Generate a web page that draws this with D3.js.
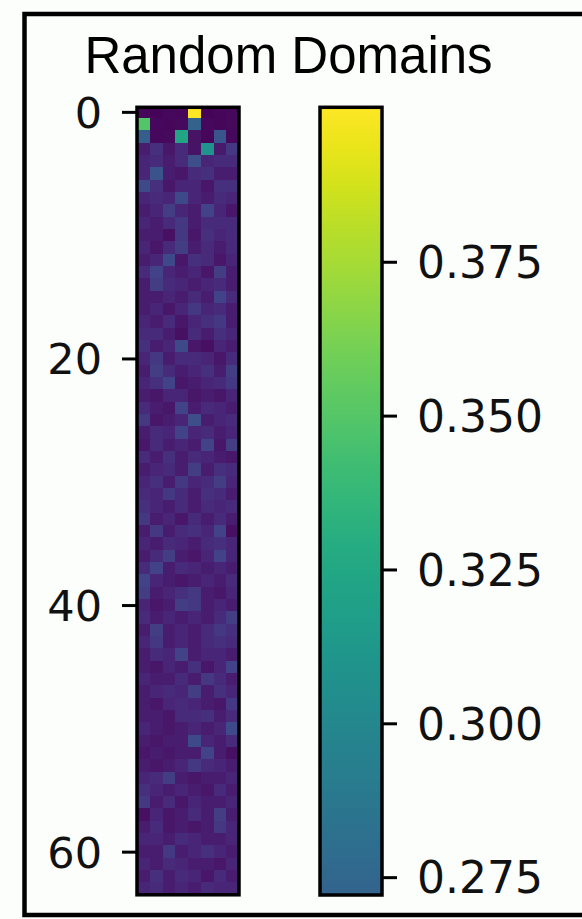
<!DOCTYPE html>
<html>
<head>
<meta charset="utf-8">
<script src="https://cdn.jsdelivr.net/npm/d3@7"></script>
<style>
  html, body { margin: 0; padding: 0; background: #fcfefc; }
  svg { display: block; }
  .tick text { font-family: "DejaVu Sans", sans-serif; }
</style>
</head>
<body>
<svg id="chart" width="582" height="919"></svg>
<script>
// Per-cell scores: 64 rows x 8 columns
const rowIndex = d3.range(64);
const colIndex = d3.range(8);
const values = [
  [0.216,0.215,0.217,0.216,0.400,0.215,0.216,0.217],
  [0.349,0.217,0.216,0.218,0.272,0.217,0.216,0.218],
  [0.268,0.217,0.218,0.323,0.222,0.216,0.263,0.217],
  [0.228,0.239,0.224,0.235,0.222,0.309,0.226,0.243],
  [0.232,0.235,0.228,0.235,0.257,0.232,0.235,0.235],
  [0.232,0.261,0.228,0.224,0.235,0.239,0.228,0.228],
  [0.254,0.239,0.224,0.232,0.232,0.224,0.239,0.239],
  [0.232,0.235,0.232,0.254,0.232,0.228,0.235,0.232],
  [0.228,0.232,0.246,0.232,0.228,0.250,0.232,0.224],
  [0.232,0.228,0.235,0.243,0.228,0.235,0.235,0.235],
  [0.228,0.228,0.221,0.243,0.224,0.239,0.232,0.235],
  [0.232,0.224,0.235,0.246,0.228,0.235,0.228,0.235],
  [0.228,0.232,0.254,0.224,0.239,0.235,0.224,0.232],
  [0.235,0.250,0.232,0.228,0.232,0.224,0.246,0.228],
  [0.228,0.246,0.235,0.232,0.228,0.232,0.235,0.228],
  [0.228,0.228,0.232,0.228,0.235,0.228,0.250,0.235],
  [0.228,0.232,0.224,0.232,0.243,0.232,0.235,0.228],
  [0.232,0.228,0.235,0.224,0.232,0.239,0.243,0.228],
  [0.235,0.235,0.228,0.221,0.235,0.228,0.239,0.232],
  [0.239,0.228,0.232,0.254,0.224,0.221,0.232,0.228],
  [0.232,0.243,0.228,0.235,0.235,0.232,0.224,0.235],
  [0.228,0.246,0.235,0.228,0.232,0.239,0.228,0.246],
  [0.232,0.239,0.250,0.224,0.228,0.232,0.235,0.243],
  [0.228,0.224,0.232,0.232,0.224,0.228,0.224,0.232],
  [0.235,0.228,0.224,0.250,0.228,0.235,0.232,0.228],
  [0.243,0.224,0.228,0.232,0.257,0.228,0.232,0.235],
  [0.228,0.235,0.232,0.250,0.232,0.235,0.228,0.232],
  [0.224,0.235,0.228,0.232,0.228,0.250,0.224,0.246],
  [0.235,0.228,0.239,0.228,0.235,0.232,0.228,0.224],
  [0.228,0.232,0.235,0.228,0.246,0.228,0.239,0.235],
  [0.232,0.239,0.228,0.243,0.232,0.235,0.246,0.232],
  [0.235,0.232,0.243,0.235,0.228,0.239,0.235,0.228],
  [0.239,0.232,0.228,0.235,0.228,0.235,0.232,0.235],
  [0.243,0.228,0.232,0.224,0.235,0.228,0.235,0.228],
  [0.228,0.243,0.228,0.235,0.239,0.232,0.250,0.221],
  [0.232,0.228,0.235,0.232,0.228,0.235,0.239,0.232],
  [0.228,0.235,0.246,0.228,0.224,0.232,0.250,0.232],
  [0.235,0.250,0.228,0.235,0.232,0.228,0.232,0.228],
  [0.250,0.232,0.228,0.224,0.228,0.232,0.228,0.235],
  [0.246,0.228,0.232,0.239,0.243,0.228,0.224,0.232],
  [0.232,0.224,0.228,0.246,0.243,0.228,0.232,0.228],
  [0.235,0.228,0.232,0.228,0.232,0.228,0.235,0.246],
  [0.228,0.246,0.228,0.232,0.228,0.235,0.243,0.239],
  [0.232,0.243,0.228,0.232,0.228,0.235,0.239,0.235],
  [0.228,0.235,0.232,0.250,0.228,0.232,0.232,0.228],
  [0.228,0.224,0.232,0.228,0.239,0.224,0.232,0.250],
  [0.232,0.228,0.228,0.235,0.228,0.243,0.235,0.228],
  [0.228,0.232,0.235,0.232,0.246,0.228,0.239,0.232],
  [0.228,0.224,0.232,0.235,0.232,0.228,0.224,0.243],
  [0.228,0.228,0.224,0.235,0.235,0.239,0.228,0.235],
  [0.232,0.228,0.224,0.228,0.232,0.228,0.232,0.254],
  [0.228,0.224,0.228,0.228,0.254,0.232,0.228,0.235],
  [0.224,0.228,0.224,0.228,0.228,0.250,0.228,0.221],
  [0.228,0.224,0.228,0.232,0.243,0.235,0.232,0.228],
  [0.232,0.235,0.246,0.228,0.224,0.228,0.228,0.232],
  [0.239,0.232,0.228,0.232,0.228,0.224,0.235,0.228],
  [0.243,0.228,0.235,0.224,0.232,0.228,0.228,0.232],
  [0.221,0.232,0.224,0.228,0.235,0.228,0.246,0.228],
  [0.228,0.235,0.224,0.228,0.224,0.228,0.243,0.232],
  [0.232,0.232,0.228,0.235,0.232,0.228,0.228,0.232],
  [0.228,0.228,0.243,0.228,0.232,0.239,0.232,0.228],
  [0.232,0.228,0.235,0.232,0.228,0.228,0.224,0.232],
  [0.228,0.239,0.228,0.235,0.232,0.224,0.235,0.228],
  [0.232,0.235,0.228,0.232,0.228,0.235,0.232,0.232]
];
const rowTicks = [0, 20, 40, 60];
const colorbarTicks = [0.275, 0.300, 0.325, 0.350, 0.375];
const colorDomain = [0.213, 0.400];      // colour normalisation
const colorbarRange = [0.2721, 0.4001];  // portion of the scale shown on the bar
const title = "Random Domains";

const svg = d3.select("#chart");

// outer frame
svg.append("rect")
  .attr("x", 24.5).attr("y", 14).attr("width", 620).attr("height", 901)
  .attr("fill", "none").attr("stroke", "#000").attr("stroke-width", 4.5);

const color = d3.scaleSequential(d3.interpolateViridis).domain(colorDomain);

// heatmap geometry
const hm = { left: 137, right: 239, top: 105.7, bottom: 894.8 };
const x = d3.scaleBand().domain(colIndex).range([hm.left, hm.right]);
const y = d3.scaleLinear().domain([-0.5, 63.5]).range([hm.top, hm.bottom]);

const clipTop = 107.3;
svg.append("clipPath").attr("id", "hmclip")
  .append("rect")
  .attr("x", hm.left).attr("y", clipTop)
  .attr("width", hm.right - hm.left).attr("height", hm.bottom - clipTop);

const cells = [];
rowIndex.forEach(r => colIndex.forEach(c => cells.push({ r, c, v: values[r][c] })));

svg.append("g").attr("clip-path", "url(#hmclip)")
  .selectAll("rect").data(cells).join("rect")
  .attr("x", d => x(d.c))
  .attr("y", d => y(d.r - 0.5))
  .attr("width", x.bandwidth() + 0.3)
  .attr("height", y(0.5) - y(-0.5) + 0.3)
  .attr("fill", d => color(d.v))
  .attr("shape-rendering", "crispEdges");

svg.append("rect")
  .attr("x", hm.left).attr("y", clipTop)
  .attr("width", hm.right - hm.left).attr("height", hm.bottom - clipTop)
  .attr("fill", "none").attr("stroke", "#000").attr("stroke-width", 3.5);

// row axis
const yAxis = d3.axisLeft(y).tickValues(rowTicks).tickSize(15).tickPadding(20);
const gy = svg.append("g").attr("transform", `translate(${hm.left},0)`).call(yAxis);
gy.select(".domain").remove();
gy.selectAll(".tick line").attr("stroke", "#000").attr("stroke-width", 3);
gy.selectAll(".tick text").attr("font-size", 43).attr("fill", "#111").attr("dy", "0.36em");

// colorbar
const cb = { left: 320, right: 382, top: 107.3, bottom: 895 };
const cy = d3.scaleLinear().domain(colorbarRange).range([cb.bottom, cb.top]);

const grad = svg.append("defs").append("linearGradient")
  .attr("id", "cbgrad").attr("x1", 0).attr("y1", 1).attr("x2", 0).attr("y2", 0);
d3.range(0, 1.0001, 0.05).forEach(t => {
  const v = colorbarRange[0] + t * (colorbarRange[1] - colorbarRange[0]);
  grad.append("stop").attr("offset", t).attr("stop-color", color(v));
});

svg.append("rect")
  .attr("x", cb.left).attr("y", cb.top)
  .attr("width", cb.right - cb.left).attr("height", cb.bottom - cb.top)
  .attr("fill", "url(#cbgrad)")
  .attr("stroke", "#000").attr("stroke-width", 3.5);

const cAxis = d3.axisRight(cy).tickValues(colorbarTicks).tickFormat(d3.format(".3f"))
  .tickSize(15).tickPadding(20);
const gc = svg.append("g").attr("transform", `translate(${cb.right},0)`).call(cAxis);
gc.select(".domain").remove();
gc.selectAll(".tick line").attr("stroke", "#000").attr("stroke-width", 3);
gc.selectAll(".tick text").attr("font-size", 44).attr("fill", "#111").attr("dy", "0.36em");

// title
svg.append("text")
  .attr("x", 288.5).attr("y", 73)
  .attr("text-anchor", "middle")
  .attr("font-family", "'Liberation Sans', Arial, sans-serif")
  .attr("font-size", 51)
  .attr("fill", "#000")
  .text(title);
</script>
</body>
</html>
